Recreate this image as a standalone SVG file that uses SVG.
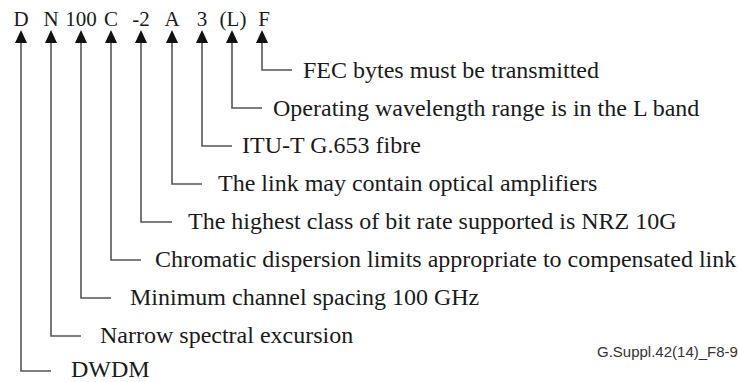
<svg xmlns="http://www.w3.org/2000/svg" width="739" height="382" viewBox="0 0 739 382">
<style>
.code{font-family:"Liberation Serif","Times New Roman",serif;font-size:21px;fill:#1a1a1a;text-anchor:middle}
.lbl{font-family:"Liberation Serif","Times New Roman",serif;font-size:24px;fill:#1a1a1a}
.ref{font-family:"Liberation Sans",Arial,sans-serif;font-size:15px;fill:#333}
.ln{fill:none;stroke:#555;stroke-width:1.6}
.ah{fill:#111}
</style>
<defs>
<path id="arrow" class="ah" d="M0,30 L6,43 L-6,43 Z"/>
</defs>
<rect width="739" height="382" fill="#fff"/>
<g id="code">
<text class="code" x="21" y="26">D</text>
<text class="code" x="51" y="26">N</text>
<text class="code" x="81" y="26">100</text>
<text class="code" x="111" y="26">C</text>
<text class="code" x="141" y="26">-2</text>
<text class="code" x="172" y="26">A</text>
<text class="code" x="202" y="26">3</text>
<text class="code" x="233" y="26">(L)</text>
<text class="code" x="264" y="26">F</text>
</g>
<g id="connectors">
<use href="#arrow" x="21"/><use href="#arrow" x="51"/><use href="#arrow" x="81"/>
<use href="#arrow" x="111"/><use href="#arrow" x="141"/><use href="#arrow" x="172"/>
<use href="#arrow" x="202"/><use href="#arrow" x="232"/><use href="#arrow" x="262"/>
<path class="ln" d="M262,43 V70 H292"/>
<path class="ln" d="M232,43 V108 H262"/>
<path class="ln" d="M202,43 V146 H232"/>
<path class="ln" d="M172,43 V184 H202"/>
<path class="ln" d="M141,43 V222 H172"/>
<path class="ln" d="M111,43 V260 H141"/>
<path class="ln" d="M81,43 V298 H111"/>
<path class="ln" d="M51,43 V336 H81"/>
<path class="ln" d="M21,43 V371 H51"/>
</g>
<g id="n-F"><text class="lbl" x="303" y="78">FEC bytes must be transmitted</text></g>
<g id="n-L"><text class="lbl" x="273" y="116">Operating wavelength range is in the L band</text></g>
<g id="n-3"><text class="lbl" x="242" y="153">ITU-T G.653 fibre</text></g>
<g id="n-A"><text class="lbl" x="218" y="191">The link may contain optical amplifiers</text></g>
<g id="n-2"><text class="lbl" x="188" y="229">The highest class of bit rate supported is NRZ 10G</text></g>
<g id="n-C"><text class="lbl" x="155" y="267">Chromatic dispersion limits appropriate to compensated link</text></g>
<g id="n-100"><text class="lbl" x="130" y="305">Minimum channel spacing 100 GHz</text></g>
<g id="n-N"><text class="lbl" x="100" y="343">Narrow spectral excursion</text></g>
<g id="n-D"><text class="lbl" x="71" y="377">DWDM</text></g>
<g id="ref"><text class="ref" x="597" y="357">G.Suppl.42(14)_F8-9</text></g>
</svg>
